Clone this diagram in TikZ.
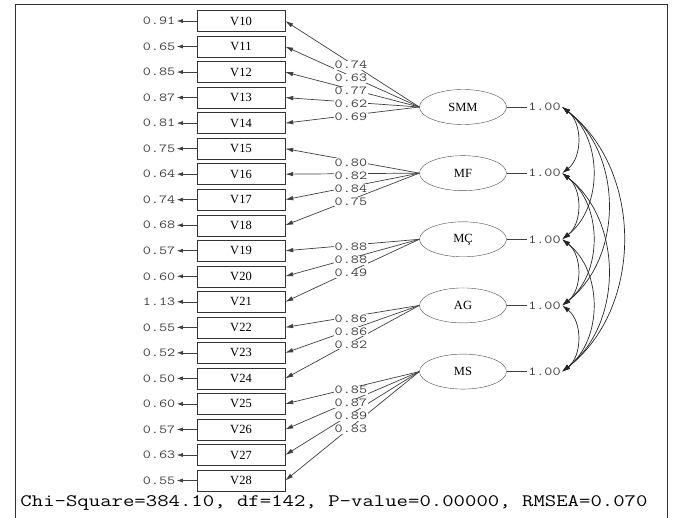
\documentclass[tikz,border=0pt]{standalone}
\usepackage{fontspec}
\setmainfont{Liberation Serif}
\usetikzlibrary{positioning,calc,shapes.geometric,arrows.meta}

\begin{document}
\begin{tikzpicture}
   [x=1pt,y=-1pt,
    obs/.style={rectangle,draw=black!80,minimum width=88pt,minimum height=21pt,
	 inner sep=0pt,font=\fontsize{12.5}{12.5}\selectfont},
    lat/.style={ellipse,draw=black!70,minimum width=87pt,minimum height=35pt,
	 inner sep=0pt,font=\fontsize{12.5}{12.5}\selectfont},
    num/.style={font=\ttfamily\fontsize{12.2}{13}\selectfont,xscale=1.29,
	 text=black!75,inner sep=1pt},
    load/.style={num,fill=white,inner sep=0.6pt},
    arr/.style={draw=black!75,line width=0.7pt,-{Latex[length=8pt,width=4.5pt]}},
    cov/.style={draw=black!85,line width=0.7pt,
	 {Latex[length=8pt,width=5pt]}-{Latex[length=8pt,width=5pt]}}]
\useasboundingbox (0,0) rectangle (673,518);
\draw [black!80,line width=1pt] (15,525) -- (15,5) -- (667,5) -- (667,525);
% observed variables
\foreach \v [count=\i from 0] in {10,...,28}
  \node [obs] (v\v) at (241,{21+25.53*\i}) {V\v};
% error variances
\foreach \v/\e in {10/0.91,11/0.65,12/0.85,13/0.87,14/0.81,15/0.75,16/0.64,
                   17/0.74,18/0.68,19/0.57,20/0.60,21/1.13,22/0.55,23/0.52,
                   24/0.50,25/0.60,26/0.57,27/0.63,28/0.55}
{
  \node [num,left=20pt of v\v] (e\v) {\e};
  \draw [arr,line width=0.6pt,-{Latex[length=6pt,width=4pt]}] (v\v) -- (e\v);
}
% latent variables
\node [lat] (smm) at (463,107) {SMM};
\node [lat,below=30.75pt of smm] (mf) {MF};
\node [lat,below=30.75pt of mf] (mc) {MÇ};
\node [lat,below=30.75pt of mc] (ag) {AG};
\node [lat,below=30.75pt of ag] (ms) {MS};
\foreach \f in {smm,mf,mc,ag,ms}
{
  \node [num,right=20pt of \f] (r\f) {1.00};
  \draw [black!75,line width=0.7pt] (\f) -- (r\f);
}
% loadings
\def\loadings{smm/10/0.74,smm/11/0.63,smm/12/0.77,smm/13/0.62,smm/14/0.69,
              mf/15/0.80,mf/16/0.82,mf/17/0.84,mf/18/0.75,
              mc/19/0.88,mc/20/0.88,mc/21/0.49,
              ag/22/0.86,ag/23/0.86,ag/24/0.82,
              ms/25/0.85,ms/26/0.87,ms/27/0.89,ms/28/0.83}
\foreach \f/\v/\l in \loadings
  \draw [arr] (\f.west) -- (v\v.east);
\foreach \f/\v/\l in \loadings
  \node [load] (l\v) at ($(\f.west)!0.51!(v\v.east)+(0,2)$) {\l};
% correlations between factors
\foreach \a/\b in {smm/mf,smm/mc,smm/ag,smm/ms,mf/mc,mf/ag,mf/ms,mc/ag,mc/ms,ag/ms}
  \draw [cov] (r\a.east) to [bend left=52] (r\b.east);
\node [font=\ttfamily\fontsize{17.5}{18}\selectfont,xscale=1.265,anchor=base]
  (stats) at (334,507) {Chi-Square=384.10, df=142, P-value=0.00000, RMSEA=0.070};
\end{tikzpicture}
\end{document}
